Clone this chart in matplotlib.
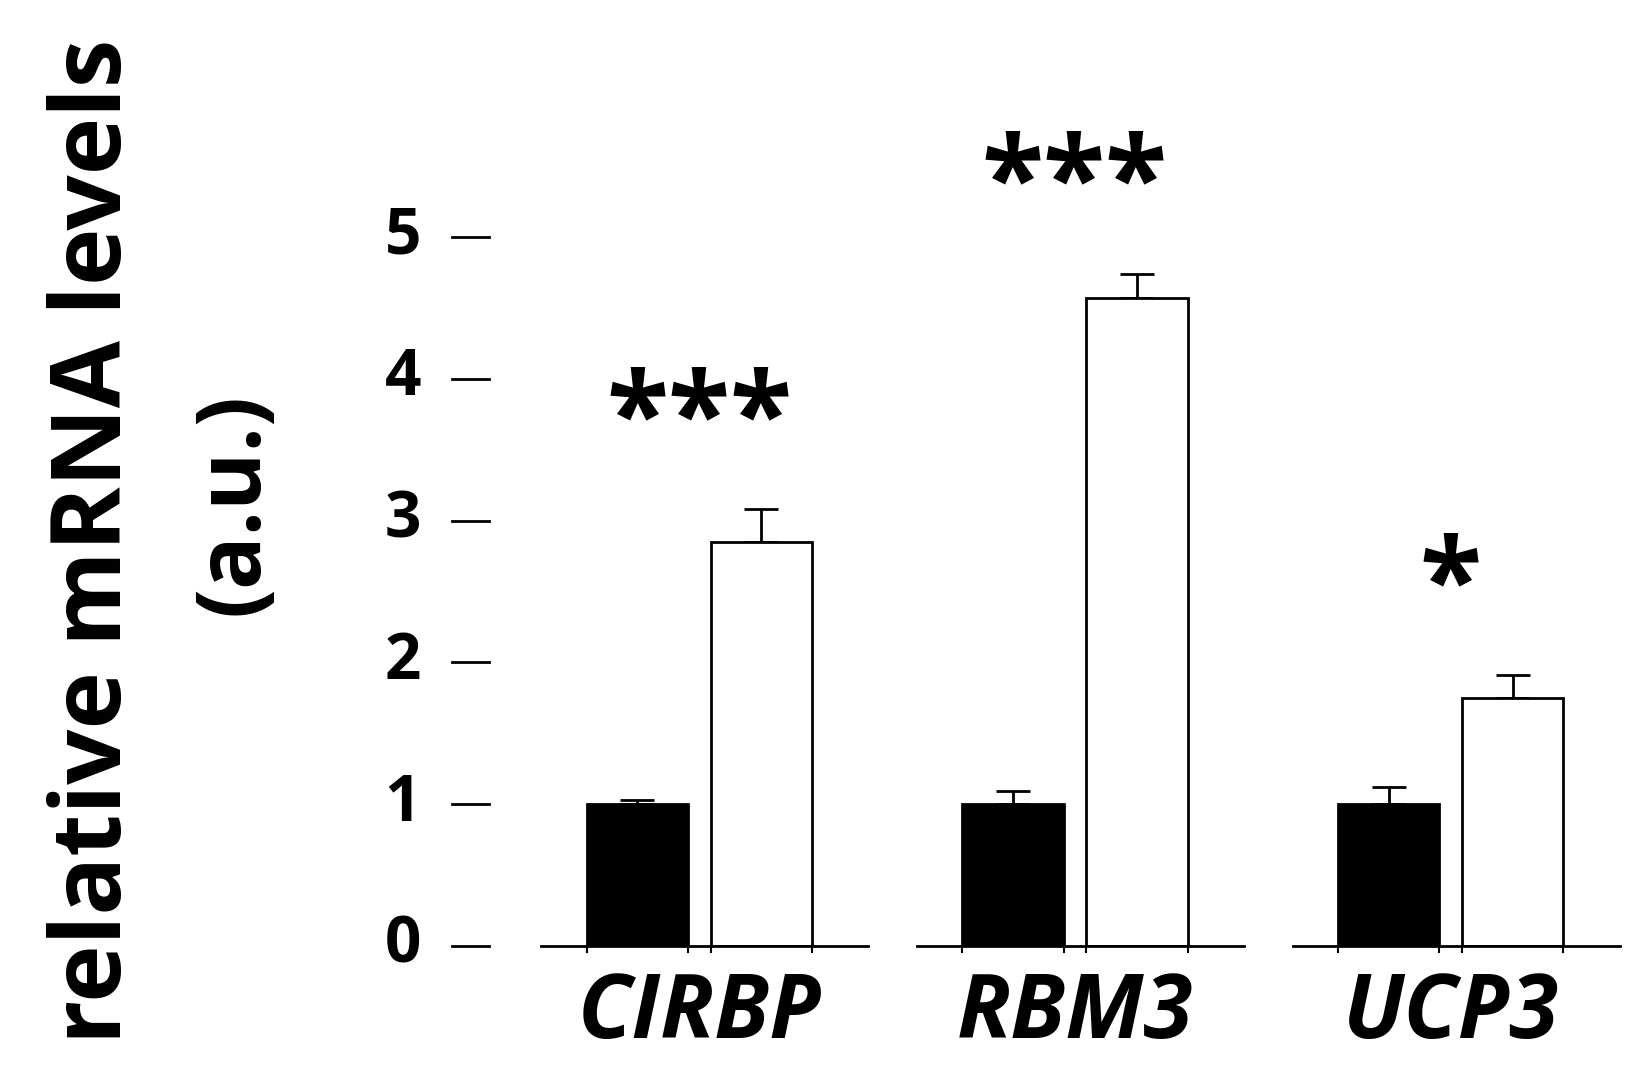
import numpy as np
import matplotlib.pyplot as plt

plt.rcParams['font.family'] = ['Open Sans', 'DejaVu Sans']

genes = ['CIRBP', 'RBM3', 'UCP3']
control = [1.0, 1.0, 1.0]
control_err = [0.03, 0.09, 0.12]
treated = [2.85, 4.57, 1.75]
treated_err = [0.23, 0.17, 0.16]
stars = ['***', '***', '*']
yticks = [0, 1, 2, 3, 4, 5]

fig = plt.figure(figsize=(16.4, 10.83), dpi=100)
ax = fig.add_axes([0.2756, 0.1265, 0.7144, 0.7855])

x = np.arange(len(genes))
w = 0.27
off = 0.165
ax.bar(x - off, control, w, color='black', edgecolor='black', lw=2, zorder=2)
ax.bar(x + off, treated, w, color='white', edgecolor='black', lw=2, zorder=2)
ax.errorbar(x - off, control, yerr=[np.zeros(3), control_err], fmt='none',
            ecolor='black', elinewidth=2, capsize=12, capthick=2, zorder=1)
ax.errorbar(x + off, treated, yerr=[np.zeros(3), treated_err], fmt='none',
            ecolor='black', elinewidth=2, capsize=12, capthick=2, zorder=1)

# separate baselines per gene, with small marks at bar edges
for i in x:
    ax.plot([i - 0.42, i + 0.45], [0, 0], color='black', lw=2, clip_on=False)
    for e in [i - off - w / 2, i - off + w / 2, i + off - w / 2, i + off + w / 2]:
        ax.plot([e, e], [0, -0.04], color='black', lw=1.5, clip_on=False)
    top = treated[i] + treated_err[i]
    ax.text(i, top + 0.2, stars[i], ha='center', va='bottom',
            fontsize=82, fontweight='bold')
    ax.text(i, -0.17, genes[i], ha='center', va='top', fontsize=64,
            fontweight='bold', style='italic')

# detached y ticks
for t in yticks:
    ax.plot([-0.658, -0.56], [t, t], color='black', lw=2, clip_on=False)
    ax.text(-0.74, t, str(t), ha='right', va='center', fontsize=46, fontweight='bold')

ax.set_xlim(-0.658, 2.46)
ax.set_ylim(0, 6)
ax.axis('off')

fig.text(0.058, 0.5, 'relative mRNA levels', rotation=90, ha='center', va='center',
         fontsize=70, fontweight='bold')
fig.text(0.143, 0.535, '(a.u.)', rotation=90, ha='center', va='center',
         fontsize=64, fontweight='bold')

fig.savefig('out.png', dpi=100)
